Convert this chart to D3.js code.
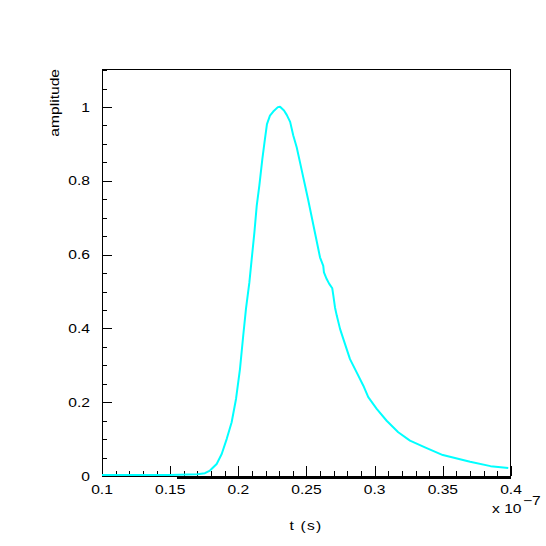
<!DOCTYPE html>
<html><head><meta charset="utf-8">
<script src="https://cdn.jsdelivr.net/npm/d3@7"></script>
<style>body{margin:0;background:#fff}svg{display:block}text{font-family:"Liberation Sans",Arial,sans-serif;fill:#000}</style>
</head><body><div id="c"></div>
<script>
// time in units of 1e-7 s
const pulseT = [0.100,0.150,0.170,0.1755,0.1792,0.1841,0.1878,0.1915,0.1951,0.1983,0.2012,0.2036,0.2056,0.2081,0.2098,0.2118,0.2135,0.2154,0.2176,0.2195,0.2210,0.2232,0.2256,0.2290,0.2306,0.2335,0.2355,0.2380,0.2403,0.2428,0.2452,0.2511,0.2587,0.2599,0.2623,0.2628,0.2648,0.2667,0.2689,0.2697,0.2709,0.2722,0.2746,0.2770,0.2819,0.2868,0.2917,0.2953,0.3015,0.3088,0.3173,0.3259,0.3369,0.3500,0.3700,0.3850,0.3980];
const pulseV = [0,0,0.002,0.005,0.012,0.030,0.057,0.098,0.143,0.206,0.287,0.378,0.450,0.522,0.585,0.658,0.730,0.784,0.856,0.910,0.951,0.974,0.985,0.997,0.998,0.988,0.976,0.957,0.920,0.888,0.848,0.748,0.612,0.590,0.567,0.549,0.531,0.518,0.506,0.486,0.454,0.432,0.396,0.369,0.314,0.278,0.242,0.211,0.179,0.147,0.116,0.093,0.075,0.054,0.036,0.024,0.019];
const baseT = [0.155,0.200,0.250,0.300,0.350,0.400];
const baseV = [0,0,0,0,0,0];
const xTicks = [0.1,0.15,0.2,0.25,0.3,0.35,0.4];
const xTickLabels = ["0.1","0.15","0.2","0.25","0.3","0.35","0.4"];
const yTicks = [0,0.2,0.4,0.6,0.8,1];
const yTickLabels = ["0","0.2","0.4","0.6","0.8","1"];

const W=546,H=546, L=102,R=511,T=69,B=476;
const x = d3.scaleLinear().domain([0.1,0.4]).range([L,R]);
const y = d3.scaleLinear().domain([0,1.103]).range([B,T]);
const svg = d3.select("#c").append("svg").attr("width",W).attr("height",H);
const SX=1.25, FS=12.5;
function txt(px,py,s,anchor,rot){
  const t = svg.append("text").attr("transform",`translate(${px},${py})`+(rot?` rotate(${rot})`:"")+` scale(${SX},1)`)
    .attr("text-anchor",anchor).style("font-size",FS+"px").text(s);
  return t;
}
// frame
svg.append("rect").attr("x",L+0.5).attr("y",T+0.5).attr("width",R-L-1).attr("height",B-T).attr("fill","none").attr("stroke","#000").attr("stroke-width",1);
// x ticks
const g = svg.append("g").attr("stroke","#000").attr("stroke-width",1);
d3.range(0.10,0.4001,0.01).forEach(v=>{
  const major = Math.abs(v*20-Math.round(v*20))<1e-6;
  const px = Math.round(x(v))+0.5;
  g.append("line").attr("x1",px).attr("x2",px).attr("y1",B).attr("y2",B-(major?10:5));
});
d3.range(0,1.1001,0.05).forEach(v=>{
  const major = Math.abs(v*5-Math.round(v*5))<1e-6;
  const py = Math.round(y(v))+0.5;
  g.append("line").attr("x1",L).attr("x2",L+(major?10:5)).attr("y1",py).attr("y2",py);
});
g.append("line").attr("x1",L).attr("x2",R).attr("y1",B+0.5).attr("y2",B+0.5);
// labels
xTicks.forEach((v,i)=>txt(x(v),494,xTickLabels[i],"middle"));
yTicks.forEach((v,i)=>txt(90,y(v)+4.5,yTickLabels[i],"end"));
txt(306,530,"t (s)","middle").attr("letter-spacing","1px");
txt(59,69,"amplitude","end",-90);
txt(492,513,"x 10","start");
txt(523,505,"\u22127","start");
// data
const line = d3.line().x(d=>x(d[0])).y(d=>y(d[1]));
svg.append("path").datum(baseT.map((t,i)=>[t,baseV[i]])).attr("d",line).attr("transform","translate(0,1.5)")
  .attr("fill","none").attr("stroke","#000").attr("stroke-width",3);
svg.append("path").datum(pulseT.map((t,i)=>[t,pulseV[i]])).attr("d",line).attr("transform","translate(0,-1)")
  .attr("fill","none").attr("stroke","#00ffff").attr("stroke-width",2).attr("stroke-linejoin","round");
</script></body></html>
